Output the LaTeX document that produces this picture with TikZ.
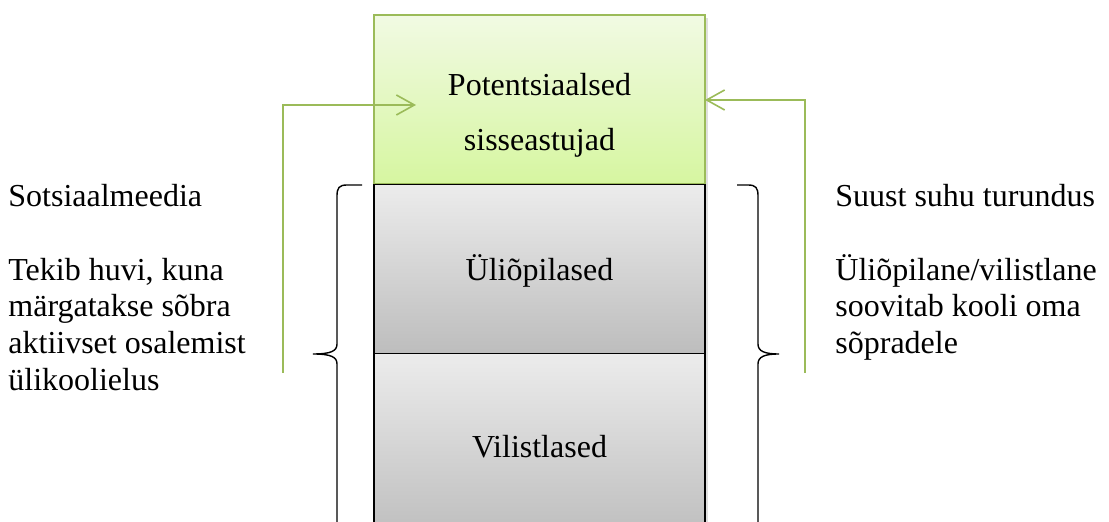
\documentclass[tikz,border=0pt]{standalone}
\usepackage{fontspec}
\setmainfont{Liberation Serif}
\usepackage{tikz}
\usetikzlibrary{positioning, shadows, arrows.meta}
\definecolor{leafgreen}{HTML}{9BBB59}
\definecolor{greentop}{HTML}{F1FAE3}
\definecolor{greenbottom}{HTML}{D6F6A0}
\definecolor{greytop}{HTML}{ECECEC}
\definecolor{greybottom}{HTML}{BDBDBD}
\tikzstyle{tier} = [rectangle, outer sep=0pt, minimum width=165.5pt, minimum height=84.5pt, drop shadow={opacity=0.25, shadow xshift=1.5pt, shadow yshift=-1.5pt}]
\tikzstyle{label} = [font=\fontsize{16}{18.4}\selectfont, inner sep=0pt]
\tikzstyle{feed} = [draw=leafgreen, line width=0.8pt, -{Straight Barb[length=9pt,width=10pt]}]
\tikzstyle{curly} = [line width=0.7pt]

\begin{document}
\begin{tikzpicture}[x=0.5pt, y=-0.5pt]
        \useasboundingbox (0,0) rectangle (1109,522);

        \node[tier, draw=leafgreen, line width=1pt, top color=greentop, bottom color=greenbottom] (potential) at (539.5,100) {};
        \node[label, align=center, font=\fontsize{16}{27.5}\selectfont] (potentialtext) at (539.5,115) {Potentsiaalsed\\sisseastujad};

        \node[tier, draw=black, line width=0.8pt, top color=greytop, bottom color=greybottom, below=0pt of potential] (students) {};
        \node[tier, draw=black, line width=0.8pt, top color=greytop, bottom color=greybottom, minimum height=93.5pt, below=0pt of students] (alumni) {};
        \node[label] at ([yshift=-1pt]students.center) {Üliõpilased};
        \node[label] at (alumni.center) {Vilistlased};

        % left side
        \node[label, align=left, anchor=north west] (social) at (8,184) {Sotsiaalmeedia\\[18.4pt]Tekib huvi, kuna\\märgatakse sõbra\\aktiivset osalemist\\ülikoolielus};
        \coordinate (socialfoot) at (283,373);
        \coordinate (socialtip) at (416,105);
        \draw [feed] (socialfoot) |- (socialtip);

        % right side
        \node[label, align=left, anchor=north west] (word) at (835,184) {Suust suhu turundus\\[18.4pt]Üliõpilane/vilistlane\\soovitab kooli oma\\sõpradele};
        \coordinate (wordfoot) at (805,373);
        \draw [feed] (wordfoot) |- (potential.east);

        % braces
        \draw [curly] (362,185) -- (347,185) .. controls (339,185) and (337,188) .. (337,196) -- (337,344) .. controls (337,351) and (331,354) .. (313,354) .. controls (331,354) and (337,357) .. (337,364) -- (337,530);
        \draw [curly] (737,185) -- (748,185) .. controls (756,185) and (758,188) .. (758,196) -- (758,344) .. controls (758,351) and (764,354) .. (779,354) .. controls (764,354) and (758,357) .. (758,364) -- (758,530);

    \end{tikzpicture}
\end{document}
